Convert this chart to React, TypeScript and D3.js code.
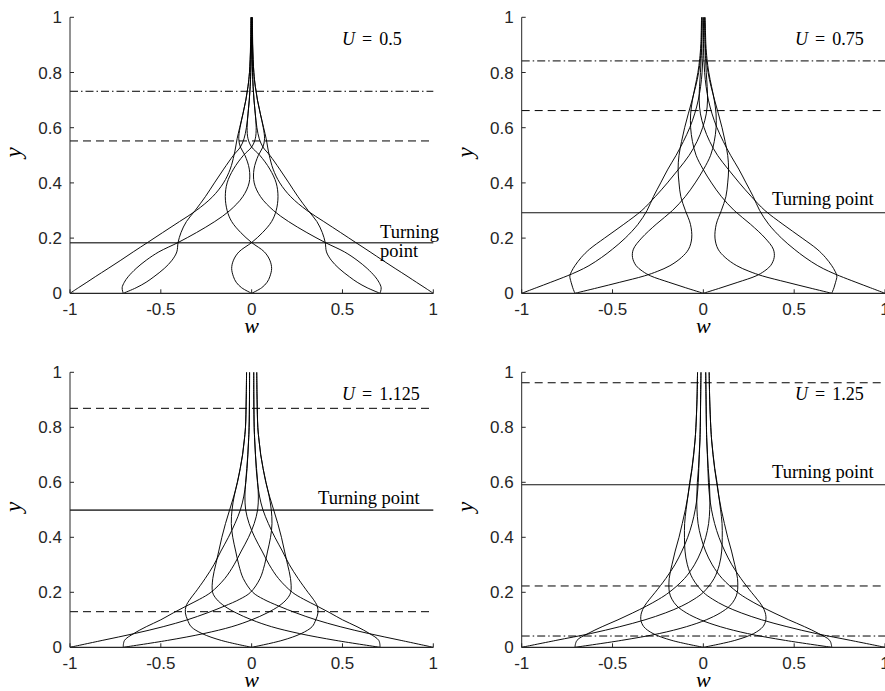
import React from 'react';
import * as d3 from 'd3';

// ---------- tick labels / annotations ----------
const X_TICKS = [-1, -0.5, 0, 0.5, 1];
const X_TICK_LABELS = ['-1', '-0.5', '0', '0.5', '1'];
const Y_TICKS = [0, 0.2, 0.4, 0.6, 0.8, 1];
const Y_TICK_LABELS = ['0', '0.2', '0.4', '0.6', '0.8', '1'];
const U_LABELS = ['0.5', '0.75', '1.125', '1.25'];

// ---------- snapshot profiles w(y) ----------
// Each panel: heights Y and four profiles (the ones starting at +1, 0, +0.707, +0.707);
// every profile is drawn together with its mirror image (-w).

// U = 0.5
const Y_1 = [0, 0.02, 0.04, 0.06, 0.09, 0.12, 0.15, 0.184, 0.22, 0.26, 0.3, 0.35, 0.4, 0.45, 0.5, 0.53, 0.56, 0.6, 0.65, 0.7, 0.75, 0.8, 0.9, 1.0];
const A_1 = [1, 0.954, 0.907, 0.861, 0.79, 0.72, 0.652, 0.573, 0.49, 0.397, 0.305, 0.215, 0.155, 0.118, 0.097, 0.088, 0.08, 0.066, 0.048, 0.032, 0.02, 0.012, 0.005, 0.003];
const C_1 = [0, -0.055, -0.085, -0.1, -0.11, -0.1, -0.07, 0, 0.06, 0.11, 0.135, 0.145, 0.135, 0.1, 0.045, 0, -0.02, -0.025, -0.02, -0.013, -0.008, -0.005, -0.003, -0.002];
const P_1 = [0.707, 0.636, 0.581, 0.538, 0.481, 0.438, 0.412, 0.405, 0.389, 0.359, 0.311, 0.255, 0.205, 0.154, 0.1, 0.062, 0.042, 0.029, 0.02, 0.013, 0.008, 0.005, 0.001, 0.001];
const Q_1 = [0.707, 0.713, 0.701, 0.68, 0.636, 0.58, 0.511, 0.405, 0.304, 0.203, 0.12, 0.049, 0.014, 0.013, 0.037, 0.062, 0.071, 0.064, 0.048, 0.032, 0.02, 0.012, 0.006, 0.004];

// U = 0.75
const Y_2 = [0, 0.02, 0.04, 0.063, 0.08, 0.1, 0.13, 0.16, 0.2, 0.25, 0.3, 0.35, 0.4, 0.45, 0.5, 0.55, 0.6, 0.65, 0.7, 0.75, 0.8, 0.85, 0.9, 1.0];
const A_2 = [1, 0.92, 0.84, 0.75, 0.69, 0.63, 0.56, 0.5, 0.43, 0.36, 0.31, 0.275, 0.235, 0.195, 0.15, 0.11, 0.075, 0.048, 0.028, 0.015, 0.007, 0.003, 0.001, 0];
const C_2 = [0, -0.097, -0.19, -0.29, -0.335, -0.37, -0.39, -0.385, -0.34, -0.26, -0.17, -0.1, -0.045, 0.002, 0.04, 0.06, 0.07, 0.07, 0.06, 0.045, 0.03, 0.02, 0.014, 0.01];
const P_2 = [0.707, 0.582, 0.46, 0.325, 0.251, 0.184, 0.12, 0.081, 0.064, 0.071, 0.099, 0.124, 0.134, 0.139, 0.134, 0.12, 0.103, 0.083, 0.062, 0.042, 0.026, 0.016, 0.011, 0.007];
const Q_2 = [0.707, 0.719, 0.728, 0.735, 0.725, 0.707, 0.672, 0.626, 0.544, 0.438, 0.339, 0.265, 0.198, 0.136, 0.078, 0.035, 0.004, -0.016, -0.023, -0.021, -0.016, -0.012, -0.009, -0.007];

// U = 1.125
const Y_3 = [0, 0.025, 0.05, 0.075, 0.1, 0.125, 0.15, 0.175, 0.2, 0.25, 0.3, 0.35, 0.4, 0.45, 0.5, 0.55, 0.6, 0.65, 0.7, 0.75, 0.8, 0.9, 1.0];
const A_3 = [1, 0.823, 0.645, 0.487, 0.354, 0.245, 0.149, 0.065, 0.006, -0.046, -0.071, -0.088, -0.104, -0.112, -0.108, -0.096, -0.079, -0.063, -0.05, -0.041, -0.034, -0.03, -0.028];
const C_3 = [0, -0.167, -0.273, -0.333, -0.353, -0.365, -0.361, -0.339, -0.31, -0.256, -0.208, -0.169, -0.128, -0.092, -0.062, -0.043, -0.032, -0.025, -0.021, -0.017, -0.014, -0.012, -0.011];
const P_3 = [0.707, 0.464, 0.263, 0.109, 0, -0.085, -0.15, -0.193, -0.215, -0.214, -0.198, -0.181, -0.164, -0.144, -0.121, -0.098, -0.078, -0.063, -0.05, -0.041, -0.034, -0.03, -0.028];
const Q_3 = [0.707, 0.7, 0.649, 0.58, 0.5, 0.432, 0.36, 0.286, 0.224, 0.148, 0.097, 0.057, 0.017, -0.014, -0.033, -0.037, -0.033, -0.027, -0.021, -0.017, -0.014, -0.012, -0.012];

// U = 1.25
const Y_4 = [0, 0.025, 0.05, 0.075, 0.1, 0.125, 0.15, 0.175, 0.2, 0.25, 0.3, 0.35, 0.4, 0.45, 0.5, 0.55, 0.6, 0.65, 0.7, 0.75, 0.8, 0.9, 1.0];
const A_4 = [1, 0.812, 0.621, 0.46, 0.321, 0.209, 0.119, 0.051, 0, -0.059, -0.088, -0.101, -0.104, -0.103, -0.095, -0.085, -0.075, -0.063, -0.054, -0.046, -0.041, -0.035, -0.032];
const C_4 = [0, -0.173, -0.277, -0.328, -0.344, -0.341, -0.324, -0.296, -0.265, -0.207, -0.157, -0.118, -0.086, -0.062, -0.045, -0.034, -0.028, -0.025, -0.022, -0.019, -0.017, -0.015, -0.013];
const P_4 = [0.707, 0.452, 0.243, 0.093, -0.016, -0.093, -0.145, -0.173, -0.187, -0.188, -0.173, -0.155, -0.134, -0.116, -0.099, -0.085, -0.073, -0.062, -0.053, -0.046, -0.041, -0.035, -0.032];
const Q_4 = [0.707, 0.696, 0.635, 0.557, 0.47, 0.389, 0.313, 0.245, 0.188, 0.104, 0.049, 0.012, -0.013, -0.029, -0.035, -0.036, -0.033, -0.027, -0.023, -0.019, -0.017, -0.015, -0.013];

// ---------- horizontal reference levels ----------
const REF_1 = [0.732, 0.552, 0.183];
const REF_2 = [0.842, 0.662, 0.292];
const REF_3 = [0.869, 0.499, 0.1295];
const REF_4 = [0.962, 0.591, 0.223, 0.041];
const REF_KIND_1 = ['dashdot', 'dash', 'solid'];
const REF_KIND_2 = ['dashdot', 'dash', 'solid'];
const REF_KIND_3 = ['dash', 'solid', 'dash'];
const REF_KIND_4 = ['dash', 'solid', 'dash', 'dashdot'];

const PANEL_DATA = [
  { Y: Y_1, profiles: [A_1, C_1, P_1, Q_1], refs: REF_1, kinds: REF_KIND_1 },
  { Y: Y_2, profiles: [A_2, C_2, P_2, Q_2], refs: REF_2, kinds: REF_KIND_2 },
  { Y: Y_3, profiles: [A_3, C_3, P_3, Q_3], refs: REF_3, kinds: REF_KIND_3 },
  { Y: Y_4, profiles: [A_4, C_4, P_4, Q_4], refs: REF_4, kinds: REF_KIND_4 },
];

const LAYOUT = [
  { left: 70, right: 433.3, top: 17.3, bottom: 293.3, ylab: 21, tx: 380, tyy: 238, two: true, ux: 342, uy: 45, solid: '#4a4a4a', solidW: 1.6 },
  { left: 521.7, right: 885, top: 17.3, bottom: 293.3, ylab: 473, tx: 772, tyy: 205, two: false, ux: 795, uy: 45, solid: '#111', solidW: 1.1 },
  { left: 70, right: 433.3, top: 372.3, bottom: 647.3, ylab: 21, tx: 318, tyy: 504, two: false, ux: 342, uy: 400, solid: '#4a4a4a', solidW: 1.6 },
  { left: 521.7, right: 885, top: 372.3, bottom: 647.3, ylab: 473, tx: 772, tyy: 477.5, two: false, ux: 795, uy: 400, solid: '#111', solidW: 1.1 },
];

const AXIS = '#262626';
const SANS = 'Liberation Sans, Arial, sans-serif';
const SERIF = 'Liberation Serif, Times New Roman, serif';

const Panel = ({ idx }: { idx: number }) => {
  const L = LAYOUT[idx];
  const D = PANEL_DATA[idx];
  const x = d3.scaleLinear().domain([-1, 1]).range([L.left, L.right]);
  const y = d3.scaleLinear().domain([0, 1]).range([L.bottom, L.top]);
  const line = d3.line<[number, number]>()
    .x(d => x(d[0]))
    .y(d => y(d[1]))
    .curve(d3.curveCatmullRom.alpha(0.5));
  const curves: [number, number][][] = [];
  D.profiles.forEach(prof => {
    curves.push(D.Y.map((yy, i) => [prof[i], yy] as [number, number]));
    curves.push(D.Y.map((yy, i) => [-prof[i], yy] as [number, number]));
  });
  return (
    <g>
      {D.refs.map((v, i) => {
        const k = D.kinds[i];
        return (
          <line key={'r' + i} x1={L.left} x2={L.right} y1={y(v)} y2={y(v)}
            stroke={k === 'solid' ? L.solid : '#000'} strokeWidth={k === 'solid' ? L.solidW : 1}
            strokeDasharray={k === 'dash' ? '8,5' : k === 'dashdot' ? '8,3,1.5,3' : undefined} />
        );
      })}
      {curves.map((cv, i) => (
        <path key={'c' + i} d={line(cv) || ''} fill="none" stroke="#000" strokeWidth={0.95} />
      ))}
      <line x1={L.left} x2={L.right} y1={L.bottom} y2={L.bottom} stroke={AXIS} strokeWidth={1.2} />
      <line x1={L.left} x2={L.left} y1={L.bottom} y2={L.top} stroke={AXIS} strokeWidth={1} />
      {X_TICKS.map((t, i) => (
        <g key={'xt' + i}>
          <line x1={x(t)} x2={x(t)} y1={L.bottom} y2={L.bottom - 4} stroke={AXIS} />
          <text x={x(t)} y={L.bottom + 22} textAnchor="middle" fontFamily={SANS} fontSize={17} fill={AXIS}>{X_TICK_LABELS[i]}</text>
        </g>
      ))}
      {Y_TICKS.map((t, i) => (
        <g key={'yt' + i}>
          <line x1={L.left} x2={L.left + 4} y1={y(t)} y2={y(t)} stroke={AXIS} />
          <text x={L.left - 8} y={y(t) + 6} textAnchor="end" fontFamily={SANS} fontSize={17} fill={AXIS}>{Y_TICK_LABELS[i]}</text>
        </g>
      ))}
      <text x={(L.left + L.right) / 2} y={L.bottom + 40} textAnchor="middle" fontFamily={SERIF} fontStyle="italic" fontSize={22} fill="#000">w</text>
      <text transform={`translate(${L.ylab},${(L.top + L.bottom) / 2 - 3}) rotate(-90)`} textAnchor="middle" fontFamily={SERIF} fontStyle="italic" fontSize={23} fill="#000">y</text>
      <text x={L.ux} y={L.uy} fontFamily={SERIF} fontSize={18} fill="#000">
        <tspan fontStyle="italic">U</tspan><tspan dx={7}>=</tspan><tspan dx={7}>{U_LABELS[idx]}</tspan>
      </text>
      {L.two ? (
        <text fontFamily={SERIF} fontSize={18.5} fill="#000">
          <tspan x={L.tx} y={L.tyy}>Turning</tspan>
          <tspan x={L.tx} y={L.tyy + 19}>point</tspan>
        </text>
      ) : (
        <text x={L.tx} y={L.tyy} fontFamily={SERIF} fontSize={18.5} fill="#000">Turning point</text>
      )}
    </g>
  );
};

export default function App() {
  return (
    <svg width={885} height={691} style={{ position: 'absolute', left: 0, top: 0, background: '#fff' }}>
      <rect width={885} height={691} fill="#fff" />
      {[0, 1, 2, 3].map(i => <Panel key={i} idx={i} />)}
    </svg>
  );
}
